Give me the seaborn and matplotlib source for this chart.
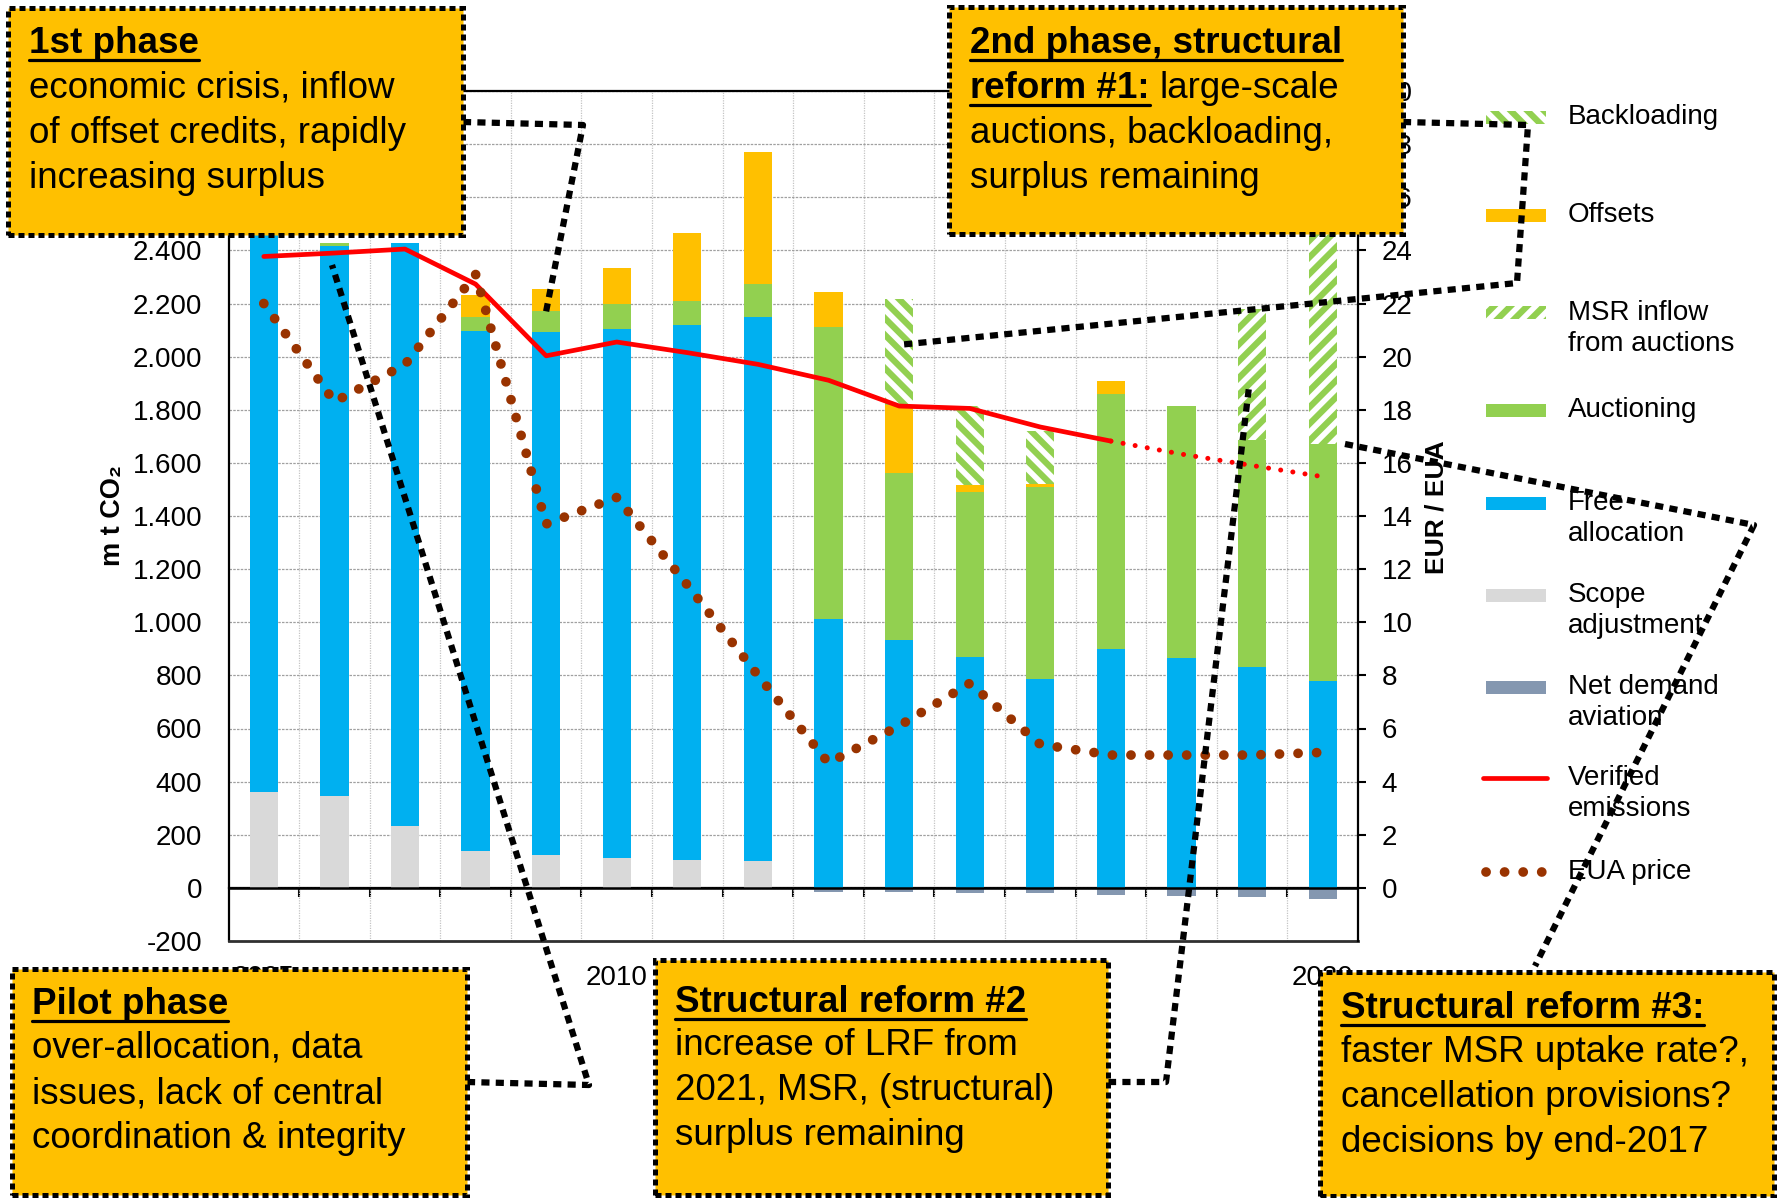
import numpy as np
import matplotlib
matplotlib.use("Agg")
import matplotlib.pyplot as plt
from matplotlib.patches import Rectangle
from matplotlib.lines import Line2D
from matplotlib.ticker import FuncFormatter
import seaborn as sns

# ---------------- data ----------------
years = list(range(2005, 2021))
scope_adjustment = [362, 347, 234, 139, 123, 112, 105, 100, 0, 0, 0, 0, 0, 0, 0, 0]
free_allocation = [2118, 2070, 2194, 1958, 1970, 1993, 2015, 2049, 1013, 932, 868, 786, 900, 864, 830, 779]
auctioning = [0, 10, 0, 52, 79, 92, 91, 125, 1099, 631, 622, 723, 958, 949, 856, 891]
offsets = [0, 0, 0, 83, 82, 138, 255, 495, 133, 254, 26, 11, 50, 0, 0, 0]
backloading = [0, 0, 0, 0, 0, 0, 0, 0, 0, 400, 300, 200, 0, 0, 0, 0]
msr_inflow = [0, 0, 0, 0, 0, 0, 0, 0, 0, 0, 0, 0, 0, 0, 492, 850]
net_demand_aviation = [0, 0, 0, 0, 0, 0, 0, 0, -16, -16, -19, -21, -28, -31, -35, -41]
verified_years = list(range(2005, 2018))
verified_emissions = [2377, 2390, 2405, 2273, 2003, 2055, 2015, 1971, 1911, 1814, 1805, 1735, 1682]
projection_years = [2017, 2018, 2019, 2020]
verified_projection = [1682, 1633, 1590, 1548]
eua_price = [22.0, 18.3, 19.7, 23.1, 13.7, 14.7, 11.4, 8.0, 4.7, 6.1, 7.7, 5.4, 5.0, 5.0, 5.0, 5.1]
label_positions = [0, 5, 15]          # 2015 label is hidden under a box
year_labels = ["2005", "2010", "2020"]

C_SCOPE, C_FREE, C_AUCT, C_OFFS = "#D9D9D9", "#00B0F0", "#92D050", "#FFC000"
C_AVI, C_RED, C_PRICE, C_BOX = "#8497B0", "#FF0000", "#993300", "#FFC000"
H_BACK, H_MSR = "\\\\", "//"

# ---------------- style ----------------
sns.set_theme(style="white")
plt.rcParams["font.family"] = ["Liberation Sans", "DejaVu Sans"]
plt.rcParams["hatch.linewidth"] = 4.5
for k in ["text.color", "axes.labelcolor", "xtick.color", "ytick.color"]:
    plt.rcParams[k] = "black"

W, H = 1779, 1198
fig = plt.figure(figsize=(W / 100, H / 100), dpi=100)
fig.patch.set_facecolor("white")


def fx(px):
    return px / W


def fy(py):
    return 1 - py / H


ax = fig.add_axes([fx(228.5), fy(941), (1358 - 228.5) / W, (941 - 91) / H])
x = np.arange(len(years))
yidx = {y: i for i, y in enumerate(years)}
bw = 0.4

# stacked bars
bottom = np.zeros(len(years))
for vals, col, hatch in [(scope_adjustment, C_SCOPE, None),
                         (free_allocation, C_FREE, None),
                         (auctioning, C_AUCT, None),
                         (offsets, C_OFFS, None),
                         (backloading, "white", H_BACK),
                         (msr_inflow, "white", H_MSR)]:
    vals = np.array(vals, dtype=float)
    if hatch:
        ax.bar(x, vals, bw, bottom=bottom, facecolor="white", edgecolor=C_AUCT,
               hatch=hatch, linewidth=0, zorder=2)
    else:
        ax.bar(x, vals, bw, bottom=bottom, color=col, linewidth=0, zorder=2)
    bottom += vals
ax.bar(x, net_demand_aviation, bw, color=C_AVI, linewidth=0, zorder=2)
ax.axhline(0, color="black", lw=1.8, zorder=3)

# verified emissions
sns.lineplot(x=[yidx[y] for y in verified_years], y=verified_emissions, ax=ax,
             color=C_RED, linewidth=3.4, zorder=4)
sns.lineplot(x=[yidx[y] for y in projection_years], y=verified_projection, ax=ax,
             color=C_RED, linewidth=3.6, zorder=4)
ln = ax.lines[-1]
ln.set_linestyle((0, (0.01, 2.45)))
ln.set_dash_capstyle("round")

ax.set_xlim(-0.5, 15.5)
ax.set_ylim(-200, 3000)
ax.set_yticks(range(-200, 3001, 200))
ax.yaxis.set_major_formatter(FuncFormatter(
    lambda v, p: f"{int(v):,}".replace(",", ".") if v <= 2400 else ""))
ax.tick_params(axis="y", length=0, pad=19, labelsize=20)
ax.set_xticks(label_positions)
ax.set_xticklabels(year_labels)
ax.set_xticks(np.arange(0.5, 15.5, 1), minor=True)
ax.tick_params(axis="x", which="both", length=0, pad=17, labelsize=20)
ax.set_axisbelow(True)
ax.grid(axis="y", which="major", color="#A0A0A0", lw=0.9, ls=(0, (2, 1)))
ax.grid(axis="x", which="minor", color="#C4C4C4", lw=0.9, ls=(0, (1, 1)))
ax.grid(axis="x", which="major", visible=False)
ax.set_xlabel("")
ax.set_ylabel("m t CO₂", fontsize=19.5, fontweight="bold", rotation=90,
              ha="center", va="center")
ax.yaxis.set_label_coords((113 - 228.5) / (1358 - 228.5), (941 - 516) / 850)
for s in ["left", "top"]:
    ax.spines[s].set_color("black")
    ax.spines[s].set_linewidth(1.6)
ax.spines["bottom"].set_color("#303030")
ax.spines["bottom"].set_linewidth(2.0)
ax.spines["right"].set_visible(False)

# tick marks on the zero line
sec = ax.secondary_xaxis(200 / 3200)
sec.set_xticks(np.arange(0.5, 15.5, 1))
sec.tick_params(axis="x", direction="out", length=6.5, width=1.5,
                labelbottom=False, labeltop=False, color="black")
for s in sec.spines.values():
    s.set_color("black")
    s.set_linewidth(1.6)

# price axis
ax2 = ax.twinx()
sns.lineplot(x=x, y=eua_price, ax=ax2, color=C_PRICE, linewidth=7.0, zorder=5)
pl = ax2.lines[-1]
pl.set_linestyle((0, (0.01, 1.9)))
pl.set_dash_capstyle("round")
ax2.set_ylim(-2, 30)
ax2.set_yticks(range(0, 31, 2))
ax2.tick_params(axis="y", direction="out", length=6, width=1.5, pad=11, labelsize=20)
ax2.set_xlabel("")
ax2.set_ylabel("EUR / EUA", fontsize=19, fontweight="bold", rotation=90,
               ha="center", va="center")
ax2.yaxis.set_label_coords((1437 - 228.5) / (1358 - 228.5), (941 - 507) / 850)
for s in ["left", "top", "bottom"]:
    ax2.spines[s].set_visible(False)
ax2.spines["right"].set_color("black")
ax2.spines["right"].set_linewidth(1.6)
ax.set_xlim(-0.5, 15.5)

# ---------------- manual legend ----------------
LX0, LX1, TX = 1486, 1546, 1568
legend_items = [
    ("hatch", H_BACK, 117, ["Backloading"]),
    ("patch", C_OFFS, 215, ["Offsets"]),
    ("hatch", H_MSR, 313, ["MSR inflow", "from auctions"]),
    ("patch", C_AUCT, 410, ["Auctioning"]),
    ("patch", C_FREE, 503, ["Free", "allocation"]),
    ("patch", C_SCOPE, 595, ["Scope", "adjustment"]),
    ("patch", C_AVI, 687, ["Net demand", "aviation"]),
    ("line", C_RED, 778, ["Verified", "emissions"]),
    ("dots", C_PRICE, 872, ["EUA price"]),
]
for kind, spec, yy, lines in legend_items:
    if kind == "patch":
        fig.add_artist(Rectangle((fx(LX0), fy(yy + 6.5)), (LX1 - LX0) / W, 13 / H,
                                 transform=fig.transFigure, facecolor=spec, lw=0))
    elif kind == "hatch":
        fig.add_artist(Rectangle((fx(LX0), fy(yy + 6.5)), (LX1 - LX0) / W, 13 / H,
                                 transform=fig.transFigure, facecolor="white",
                                 edgecolor=C_AUCT, hatch=spec, lw=0))
    elif kind == "line":
        fig.add_artist(Line2D([fx(LX0 - 3), fx(LX1 + 1)], [fy(yy), fy(yy)],
                              transform=fig.transFigure, color=spec, lw=3.4,
                              solid_capstyle="round"))
    else:
        fig.add_artist(Line2D([fx(LX0), fx(LX1)], [fy(yy), fy(yy)],
                              transform=fig.transFigure, color=spec, lw=7.0,
                              ls=(0, (0.01, 1.9)), dash_capstyle="round"))
    for i, t in enumerate(lines):
        fig.text(fx(TX), fy(yy + 31 * i), t, fontsize=20, ha="left", va="center")

# ---------------- annotation boxes & connectors ----------------
connectors = [
    [(463, 122), (583, 125), (546, 312)],
    [(1403, 122), (1528, 125), (1517, 283), (898, 345)],
    [(467, 1082), (589, 1085), (332, 265)],
    [(1108, 1082), (1166, 1082), (1249, 387)],
    [(1345, 444), (1754, 525), (1535, 966)],
]
for pts in connectors:
    fig.add_artist(Line2D([fx(p[0]) for p in pts], [fy(p[1]) for p in pts],
                          transform=fig.transFigure, color="black", lw=4.5,
                          ls=(0, (1.3, 1.0)), zorder=15))

boxes = [
    ((8, 8, 463, 235), 29, [53, 98, 143, 188],
     [[("1st phase", True)], [("economic crisis, inflow", False)],
      [("of offset credits, rapidly", False)], [("increasing surplus", False)]]),
    ((949, 7, 1403, 234), 970, [53, 98, 143, 188],
     [[("2nd phase, structural", True)], [("reform #1:", True), ("large-scale", False)],
      [("auctions, backloading,", False)], [("surplus remaining", False)]]),
    ((12, 969, 467, 1195), 32, [1014, 1058, 1103, 1148],
     [[("Pilot phase", True)], [("over-allocation, data", False)],
      [("issues, lack of central", False)], [("coordination & integrity", False)]]),
    ((655, 960, 1108, 1195), 675, [1012, 1055, 1100, 1145],
     [[("Structural reform #2", True)], [("increase of LRF from", False)],
      [("2021, MSR, (structural)", False)], [("surplus remaining", False)]]),
    ((1320, 972, 1774, 1196), 1341, [1018, 1062, 1107, 1152],
     [[("Structural reform #3:", True)], [("faster MSR uptake rate?,", False)],
      [("cancellation provisions?", False)], [("decisions by end-2017", False)]]),
]
renderer = fig.canvas.get_renderer()
FS = 26.5
for (x0, y0, x1, y1), tx, bases, lines in boxes:
    fig.add_artist(Rectangle((fx(x0), fy(y1)), (x1 - x0) / W, (y1 - y0) / H,
                             transform=fig.transFigure, facecolor=C_BOX,
                             edgecolor="black", lw=3.6, ls=(0, (1.2, 0.8)), zorder=20))
    for base, segs in zip(bases, lines):
        cx = tx
        for s, bold in segs:
            t = fig.text(fx(cx), fy(base), s, fontsize=FS,
                         fontweight="bold" if bold else "normal",
                         ha="left", va="baseline", zorder=25)
            bb = t.get_window_extent(renderer)
            if bold:
                fig.add_artist(Line2D([bb.x0 / W, bb.x1 / W], [fy(base + 7)] * 2,
                                      transform=fig.transFigure, color="black",
                                      lw=2.3, zorder=26))
            cx = bb.x1 + 10

fig.savefig("out.png", dpi=100, facecolor="white")
